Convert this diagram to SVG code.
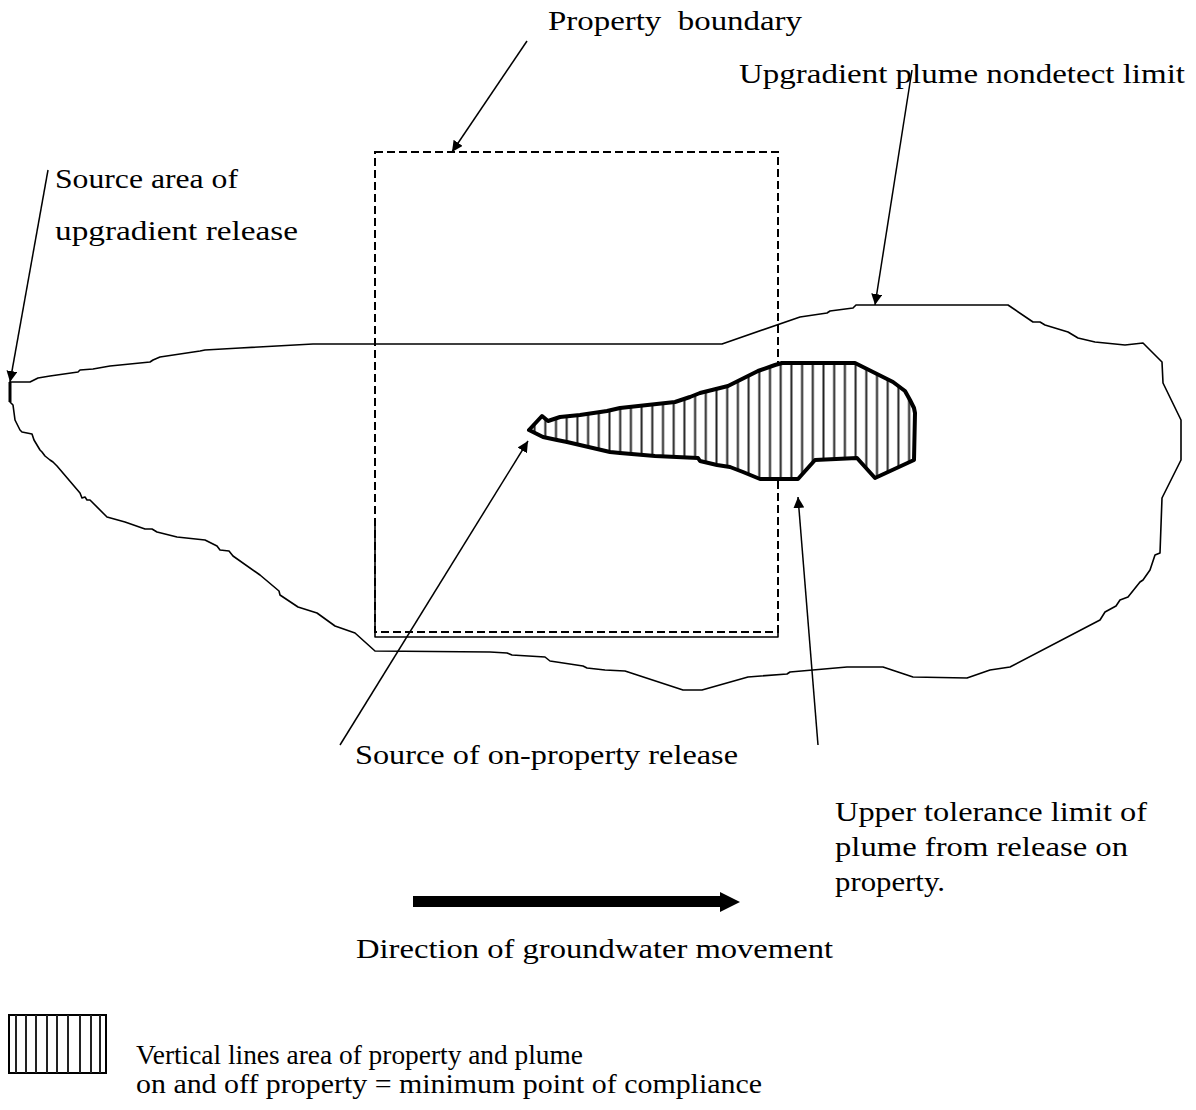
<svg xmlns="http://www.w3.org/2000/svg" width="1196" height="1110" viewBox="0 0 1196 1110">
<style>
text{font-family:"Liberation Serif","Times New Roman",serif;font-size:28px;fill:#000}
.thin{fill:none;stroke:#000;stroke-width:1.6;stroke-linejoin:round}
.dash{fill:none;stroke:#000;stroke-width:2;stroke-dasharray:8 4}
.lead{fill:none;stroke:#000;stroke-width:1.5}
.hatchline{stroke:#222;stroke-width:2}
</style>
<defs>
<pattern id="vhatch" patternUnits="userSpaceOnUse" x="764.65" y="0" width="10.7" height="20">
<rect width="10.7" height="20" fill="#fff"/>
<line class="hatchline" x1="5.35" y1="0" x2="5.35" y2="20"/>
</pattern>
<marker id="ah" viewBox="0 0 10 10" refX="10" refY="5" markerWidth="11" markerHeight="11" markerUnits="userSpaceOnUse" orient="auto">
<path d="M0,0 L10,5 L0,10 Z" fill="#000"/>
</marker>
</defs>
<rect width="1196" height="1110" fill="#fff"/>

<g id="property-boundary">
<rect class="dash" x="375" y="152" width="403" height="480"/>
<polyline class="thin" points="375,520 375,637 778,637 778,630" stroke-width="2"/>
</g>

<g id="upgradient-plume">
<path class="thin" d="M10,382 L30,382 L38,378 L50,376 L78,372 L80,370 L93,369 L110,366 L150,362 L153,360 L160,357 L200,351 L205,350 L240,348 L313,344 L318,344 L722,344 L800,317 L827,313 L830,311 L853,308 L856,305 L1008,305 L1033,322 L1040,322 L1045,325 L1068,332 L1078,338 L1095,342 L1125,345 L1143,343 L1162,362 L1163,383 L1181,420 L1181,460 L1162,498 L1160,553 L1155,555 L1150,570 L1143,580 L1140,582 L1128,597 L1120,600 L1116,606 L1105,612 L1100,620 L1010,667 L990,670 L967,678 L913,677 L883,667 L847,667 L790,672 L787,674 L748,677 L702,690 L683,690 L625,671 L605,670 L587,668 L583,666 L550,661 L545,657 L512,655 L507,653 L490,652 L375,651 L355,633 L335,626 L317,613 L298,607 L280,595 L279,591 L260,575 L233,556 L229,551 L220,550 L217,546 L205,540 L177,537 L157,532 L152,529 L145,529 L125,522 L107,517 L90,500 L87,500 L85,497 L82,498 L80,493 L57,466 L53,462 L50,460 L45,456 L42,452 L40,450 L34,440 L32,434 L22,432 L20,430 L15,420 L13,405 L10,402 Z"/>
<line x1="10" y1="382" x2="10" y2="402" stroke="#000" stroke-width="3"/>
</g>

<g id="on-property-plume">
<path d="M529,430 L542,416 L548,421 L560,417 L580,415 L607,411 L620,408 L675,402 L690,397 L700,393 L728,386 L758,371 L775,365 L782,363 L855,363 L893,382 L905,391 L910,400 L914,408 L915,413 L914,460 L875,478 L857,458 L815,460 L798,479 L760,479 L743,472 L730,467 L717,465 L700,461 L698,458 L655,456 L620,453 L610,452 L567,442 L557,440 L543,437 Z" fill="url(#vhatch)" stroke="#000" stroke-width="4" stroke-linejoin="round"/>
</g>

<g id="connectors">
<line class="lead" x1="527" y1="41" x2="452" y2="152" marker-end="url(#ah)"/>
<line class="lead" x1="912" y1="70" x2="875" y2="305" marker-end="url(#ah)"/>
<line class="lead" x1="48" y1="170" x2="10" y2="382" marker-end="url(#ah)"/>
<line class="lead" x1="340" y1="745" x2="528" y2="441" marker-end="url(#ah)"/>
<line class="lead" x1="818" y1="745" x2="798" y2="497" marker-end="url(#ah)"/>
</g>

<g id="flow-arrow">
<path d="M413,896 L720,896 L720,892 L740,902 L720,912 L720,907 L413,907 Z" fill="#000"/>
</g>

<g id="legend">
<rect x="9" y="1015" width="97" height="58" fill="#fff" stroke="#000" stroke-width="2"/>
<g class="hatchline">
<line x1="16" y1="1015" x2="16" y2="1073"/>
<line x1="26" y1="1015" x2="26" y2="1073"/>
<line x1="36" y1="1015" x2="36" y2="1073"/>
<line x1="47" y1="1015" x2="47" y2="1073"/>
<line x1="57" y1="1015" x2="57" y2="1073"/>
<line x1="68" y1="1015" x2="68" y2="1073"/>
<line x1="80" y1="1015" x2="80" y2="1073"/>
<line x1="91" y1="1015" x2="91" y2="1073"/>
<line x1="100" y1="1015" x2="100" y2="1073"/>
</g>
</g>

<g id="labels">
<text x="548" y="30" xml:space="preserve" textLength="254" lengthAdjust="spacingAndGlyphs">Property  boundary</text>
<text x="739" y="83" textLength="446" lengthAdjust="spacingAndGlyphs">Upgradient plume nondetect limit</text>
<text x="55" y="188" textLength="183" lengthAdjust="spacingAndGlyphs">Source area of</text>
<text x="55" y="240" textLength="243" lengthAdjust="spacingAndGlyphs">upgradient release</text>
<text x="355" y="764" textLength="383" lengthAdjust="spacingAndGlyphs">Source of on-property release</text>
<text x="835" y="821" textLength="312" lengthAdjust="spacingAndGlyphs">Upper tolerance limit of</text>
<text x="835" y="856" textLength="293" lengthAdjust="spacingAndGlyphs">plume from release on</text>
<text x="835" y="891" textLength="110" lengthAdjust="spacingAndGlyphs">property.</text>
<text x="356" y="958" textLength="477" lengthAdjust="spacingAndGlyphs">Direction of groundwater movement</text>
<text x="136" y="1064" textLength="447" lengthAdjust="spacingAndGlyphs">Vertical lines area of property and plume</text>
<text x="136" y="1093" textLength="626" lengthAdjust="spacingAndGlyphs">on and off property = minimum point of compliance</text>
</g>
</svg>
